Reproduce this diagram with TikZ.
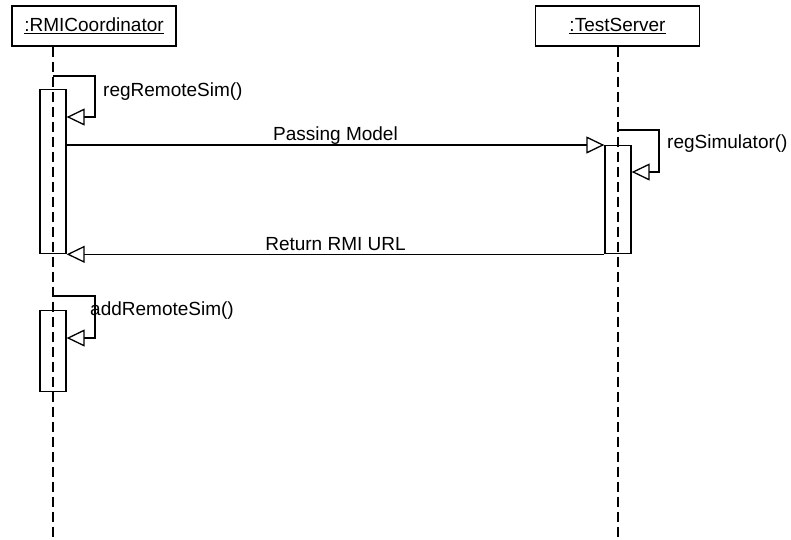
\documentclass[tikz,border=0pt]{standalone}
\usepackage{fontspec}
\setmainfont{Liberation Sans}
\usetikzlibrary{arrows.meta,calc}
\begin{document}
\begin{tikzpicture}[x=1pt,y=-1pt,
  txt/.style={font=\fontsize{19}{22}\selectfont, inner sep=0pt},
  head/.style={draw, line width=1.3pt, minimum width=164pt, minimum height=40pt,
    inner sep=0pt, font=\fontsize{19}{22}\selectfont},
  act/.style={draw, line width=1.3pt, minimum width=26pt, inner sep=0pt, anchor=north},
  life/.style={line width=1.3pt, dash pattern=on 10pt off 5pt},
  msg/.style={line width=1.3pt, -{Triangle[open, length=18pt, width=17pt, fill=white]}},
]
\useasboundingbox (0,0) rectangle (791,539);

% object heads
\node[head] (rmi) at (94,26) {\underline{:RMICoordinator}};
\node[head] (ts) at (617.5,26) {\underline{:TestServer}};

% lifelines
\coordinate (rmiEnd) at (53,537);
\coordinate (tsEnd) at (618,537);
\draw[life] (rmi.south -| rmiEnd) -- (rmiEnd);
\draw[life] (ts.south -| tsEnd) -- (tsEnd);

% activation bars
\node[act, minimum height=164pt] (a1) at (53,89) {};
\node[act, minimum height=108pt] (a2) at (618,145) {};
\node[act, minimum height=81pt] (a3) at (53,310) {};

% self call: regRemoteSim()
\coordinate (s1) at (53,76);
\draw[msg] (s1) -- ++(42,0) |- ($(a1.north east)+(0,28)$);
\node[txt, anchor=base west] (l1) at (103,96) {regRemoteSim()};

% Passing Model
\draw[msg] (a1.east |- a2.north) -- (a2.north west);
\node[txt, anchor=base] (l2) at ($(a1.east |- a2.north)!0.5!(a2.north west)+(0,-5)$) {Passing Model};

% self call: regSimulator()
\coordinate (s2) at (618,130);
\draw[msg] (s2) -- ++(41,0) |- ($(a2.north east)+(0,27)$);
\node[txt, anchor=base west] (l3) at (667,148) {regSimulator()};

% Return RMI URL
\draw[msg] (a2.south west) -- (a1.south east);
\node[txt, anchor=base] (l4) at ($(a2.south west)!0.5!(a1.south east)+(0,-4)$) {Return RMI URL};

% self call: addRemoteSim()
\coordinate (s3) at (53,296);
\draw[msg] (s3) -- ++(42,0) |- ($(a3.north east)+(0,28)$);
\node[txt, anchor=base west] (l5) at (90,315) {addRemoteSim()};
\end{tikzpicture}
\end{document}
